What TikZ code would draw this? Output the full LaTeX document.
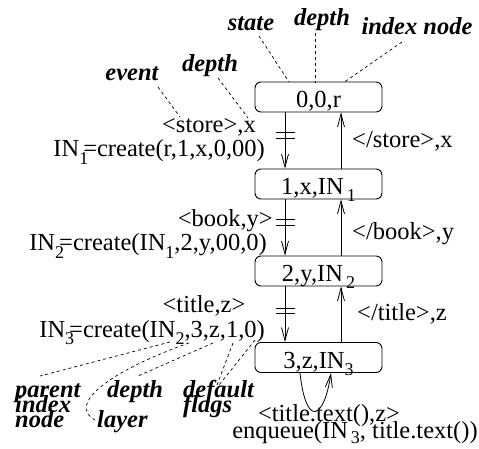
\documentclass[tikz,border=0pt]{standalone}
\usepackage{fontspec}
\setmainfont{Liberation Serif}
\usetikzlibrary{arrows.meta}
% lowered subscript used in the index-node names
\newcommand\lowsub[1]{\raisebox{-0.3em}{\fontsize{18}{18}\selectfont #1}}
\newcommand\ovsub[1]{\rlap{\lowsub{#1}}}
\begin{document}
\begin{tikzpicture}[x=1pt,y=-1pt,
  statebox/.style={draw,rounded corners=6pt,minimum width=127pt,minimum height=30pt,
    inner sep=0pt,line width=0.9pt,text height=21pt,text depth=0pt,
    font=\fontsize{24.5}{25}\selectfont},
  txt/.style={inner sep=0pt,font=\fontsize{24.5}{25}\selectfont},
  lbl/.style={inner sep=0pt,font=\fontsize{24.5}{25}\selectfont\bfseries\itshape},
  flow/.style={line width=0.8pt,-{Straight Barb[length=13pt,width=7pt,line width=0.8pt]}},
  lead/.style={line width=0.7pt,dash pattern=on 3pt off 3pt},
  tick/.style={line width=0.8pt}]
\useasboundingbox (0,0) rectangle (479,449);

% states of the automaton
\node[statebox] (s0) at (318.5,97)  {0,0,r};
\node[statebox] (s1) at (318.5,184) {1,x,IN\hspace{3pt}\lowsub{1}};
\node[statebox] (s2) at (318.5,271) {2,y,IN\hspace{3pt}\lowsub{2}};
\node[statebox] (s3) at (318.5,357.5) {3,z,IN\lowsub{3}};

% columns of the down and up transitions, ends of the self loop
\coordinate (xl) at (285,0);
\coordinate (xr) at (341,0);
\coordinate (la) at (300,0);
\coordinate (lb) at (331,0);

% downward (start tag) and upward (end tag) transitions
\draw[flow] (s0.south -| xl) -- (s1.north -| xl);
\draw[flow] (s1.south -| xl) -- (s2.north -| xl);
\draw[flow] (s2.south -| xl) -- (s3.north -| xl);
\draw[flow] (s1.north -| xr) -- (s0.south -| xr);
\draw[flow] (s2.north -| xr) -- (s1.south -| xr);
\draw[flow] (s3.north -| xr) -- (s2.south -| xr);

% double bars on the creating transitions
\foreach \y in {132,138,219,225,308,313}
  \draw[tick] (276,\y) -- (295,\y);

% self loop on the text event
\draw[flow] (s3.south -| la) .. controls (306,428) and (324,420) .. (s3.south -| lb);

% transition labels
\node[txt,anchor=base east] (e1) at (256,133) {<store>,x};
\node[txt,anchor=base east] (c1) at (265,157) {IN\ovsub{1}\hspace{4pt}=create(r,1,x,0,00)};
\node[txt,anchor=base west] (u1) at (352,148) {</store>,x};
\node[txt,anchor=base east] (e2) at (273,226) {<book,y>};
\node[txt,anchor=base east] (c2) at (267,251) {IN\ovsub{2}\hspace{4pt}=create(IN\lowsub{1},2,y,00,0)};
\node[txt,anchor=base west] (u2) at (352,240) {</book>,y};
\node[txt,anchor=base] (e3) at (204,312) {<title,z>};
\node[txt,anchor=base east] (c3) at (265,337) {IN\ovsub{3}\hspace{4pt}=create(IN\lowsub{2},3,z,1,0)};
\node[txt,anchor=base west] (u3) at (357,320) {</title>,z};
\node[txt,anchor=base] (e4) at (329,421) {<title.text(),z>};
\node[txt,anchor=base] (c4) at (355,438) {enqueue(IN\hspace{3pt}\raisebox{-0.22em}{\fontsize{18}{18}\selectfont 3}, title.text())};

% explanatory labels
\node[lbl,anchor=base] (lstate) at (251,31) {state};
\node[lbl,anchor=base] (ldepth) at (322,26) {depth};
\node[lbl,anchor=base] (lindex) at (417,35) {index node};
\node[lbl,anchor=base] (levent) at (132,81) {event};
\node[lbl,anchor=base] (ldepthb) at (210,72) {depth};
\node[lbl,anchor=base west] (lparenta) at (15,397) {parent};
\node[lbl,anchor=base west] (lparentb) at (15,412) {index};
\node[lbl,anchor=base west] (lparentc) at (15,427) {node};
\node[lbl,anchor=base west] (ldepthc) at (107,397) {depth};
\node[lbl,anchor=base west] (ldefaulta) at (183,397) {default};
\node[lbl,anchor=base west] (ldefaultb) at (183,412) {flags};
\node[lbl,anchor=base west] (llayer) at (97,427) {layer};

% leader lines
\draw[lead] (259,36) -- (289,82);
\draw[lead] (315,33) -- (315,83);
\draw[lead] (402,42) -- (343,83);
\draw[lead] (158,87) -- (180,117);
\draw[lead] (218,78) -- (248,118);
\draw[lead] (170,342) -- (40,376);
\draw[lead] (189,343) .. controls (112,370) and (66,404) .. (95,420);
\draw[lead] (213,343) -- (138,376);
\draw[lead] (233,343) -- (217,385);
\draw[lead] (255,340) -- (219,385);
\end{tikzpicture}
\end{document}
